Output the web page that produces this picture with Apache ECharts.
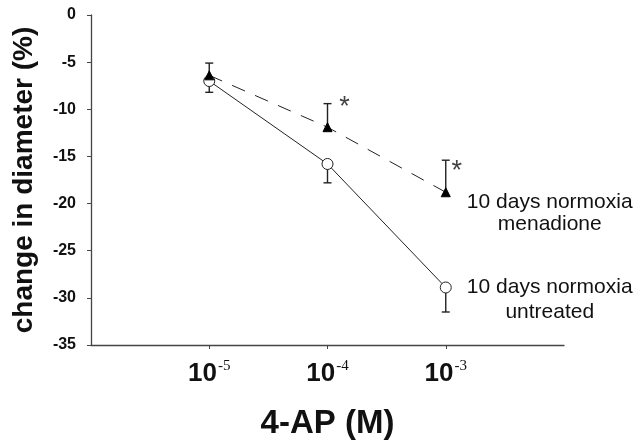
<!DOCTYPE html>
<html>
<head>
<meta charset="utf-8">
<script src="https://cdn.jsdelivr.net/npm/echarts@6/dist/echarts.min.js"></script>
<style>
  html, body { margin: 0; padding: 0; background: #fff; }
  #chart { width: 641px; height: 441px; }
</style>
</head>
<body>
<div id="chart"></div>
<script>
// 4-AP concentrations (M)
const concentrations = [1e-5, 1e-4, 1e-3];
const xTickValues = [1e-5, 1e-4, 1e-3];

// 10 days normoxia + menadione
const menadioneMean = [-6.4, -11.9, -18.8];
const menadioneUpper = [-5.1, -9.4, -15.4];

// 10 days normoxia untreated
const untreatedMean = [-7.0, -15.8, -28.9];
const untreatedLower = [-8.2, -17.8, -31.5];

// significant points (menadione)
const starIdx = [1, 2];

const FONT = '"Liberation Sans", Arial, sans-serif';
const INK = '#222';

function pairs(xs, ys) { return xs.map((x, i) => [x, ys[i]]); }

function errorBar(params, api) {
  const p = api.coord([api.value(0), api.value(1)]);
  const e = api.coord([api.value(0), api.value(2)]);
  const cap = 4;
  const st = { stroke: INK, lineWidth: 1.4 };
  return {
    type: 'group',
    children: [
      { type: 'line', shape: { x1: p[0], y1: p[1], x2: e[0], y2: e[1] }, style: st },
      { type: 'line', shape: { x1: e[0] - cap, y1: e[1], x2: e[0] + cap, y2: e[1] }, style: st }
    ]
  };
}

function exponent(v) { return Math.round(Math.log10(v)); }

const chart = echarts.init(document.getElementById('chart'));
chart.setOption({
  animation: false,
  grid: { left: 91, top: 15, width: 473, height: 330, outerBoundsMode: 'none', containLabel: false },
  xAxis: {
    type: 'log',
    logBase: 10,
    min: 1e-6,
    max: 1e-2,
    name: '4-AP (M)',
    nameLocation: 'middle',
    nameGap: 62,
    nameTextStyle: { fontFamily: FONT, fontWeight: 'bold', fontSize: 33, color: '#111' },
    axisLine: { onZero: false, lineStyle: { color: '#444', width: 1.3 } },
    axisTick: { show: true, customValues: xTickValues, length: 4, lineStyle: { color: '#444' } },
    splitLine: { show: false },
    axisLabel: {
      customValues: xTickValues,
      margin: 14,
      formatter: v => '{b|10}{s|' + exponent(v) + '}',
      rich: {
        b: { fontFamily: FONT, fontWeight: 'bold', fontSize: 26, color: '#111', lineHeight: 28 },
        s: { fontFamily: '"Liberation Serif", serif', fontSize: 15, color: '#111', padding: [0, 0, 15, 1] }
      }
    }
  },
  yAxis: {
    type: 'value',
    min: -35,
    max: 0,
    interval: 5,
    name: 'change in diameter (%)',
    nameLocation: 'middle',
    nameRotate: 90,
    nameGap: 53,
    nameTextStyle: { fontFamily: FONT, fontWeight: 'bold', fontSize: 28, color: '#111' },
    axisLine: { show: true, onZero: false, lineStyle: { color: '#444', width: 1.3 } },
    axisTick: { show: true, length: 4, lineStyle: { color: '#444' } },
    splitLine: { show: false },
    axisLabel: { fontFamily: FONT, fontWeight: 'bold', fontSize: 16, color: '#111', margin: 15 }
  },
  series: [
    {
      type: 'custom',
      renderItem: errorBar,
      data: concentrations.map((x, i) => [x, untreatedMean[i], untreatedLower[i]]),
      z: 1
    },
    {
      name: '10 days normoxia untreated',
      type: 'line',
      data: pairs(concentrations, untreatedMean),
      symbol: 'circle',
      symbolSize: 11,
      itemStyle: { color: '#fff', borderColor: INK, borderWidth: 1 },
      lineStyle: { color: INK, width: 1 },
      label: {
        show: true,
        position: 'inside',
        offset: [104, 12],
        align: 'center',
        fontFamily: FONT,
        fontSize: 21,
        lineHeight: 25,
        color: '#111',
        formatter: p => p.dataIndex === concentrations.length - 1 ? '10 days normoxia\nuntreated' : ''
      },
      z: 2
    },
    {
      type: 'custom',
      renderItem: errorBar,
      data: concentrations.map((x, i) => [x, menadioneMean[i], menadioneUpper[i]]),
      z: 3
    },
    {
      name: '10 days normoxia menadione',
      type: 'line',
      data: pairs(concentrations, menadioneMean),
      symbol: 'triangle',
      symbolSize: 9,
      itemStyle: { color: '#000', borderColor: '#000' },
      lineStyle: { color: INK, width: 1, type: [14, 11] },
      label: {
        show: true,
        position: 'inside',
        offset: [104, 21],
        align: 'center',
        fontFamily: FONT,
        fontSize: 21,
        lineHeight: 22,
        color: '#111',
        formatter: p => p.dataIndex === concentrations.length - 1 ? '10 days normoxia\nmenadione' : ''
      },
      z: 4
    },
    {
      type: 'scatter',
      symbolSize: 0,
      data: starIdx.map((i, k) => ({
        value: [concentrations[i], menadioneUpper[i]],
        label: { offset: k === 0 ? [17, 4] : [11, 11] }
      })),
      label: {
        show: true,
        position: 'inside',
        formatter: '*',
        fontFamily: FONT,
        fontSize: 27,
        color: '#111'
      },
      z: 5
    }
  ]
});
</script>
</body>
</html>
